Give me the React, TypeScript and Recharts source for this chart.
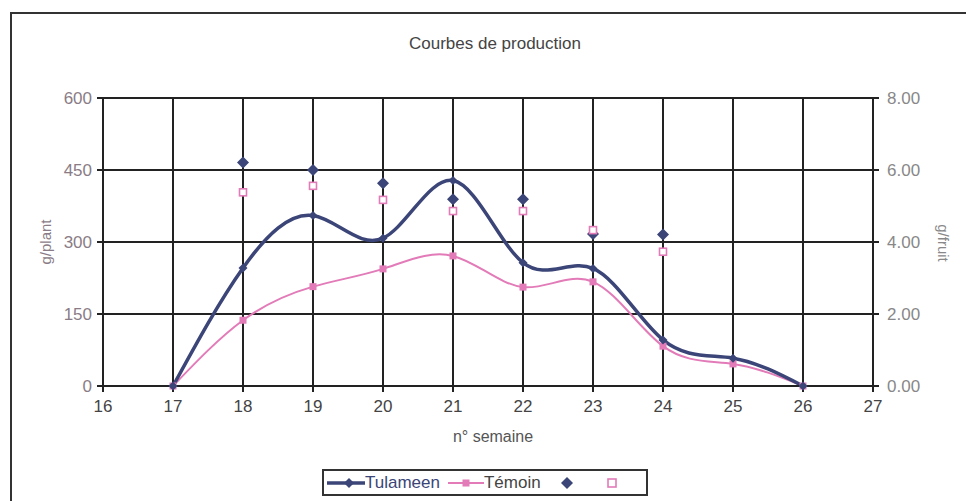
import React from "react"
import {
  ComposedChart,
  Line,
  Scatter,
  XAxis,
  YAxis,
  CartesianGrid,
} from "recharts"

// n° semaine
const weeks = [17, 18, 19, 20, 21, 22, 23, 24, 25, 26]
// g/plant
const tulameen = [0, 246, 355, 308, 428, 257, 245, 96, 58, 0]
const temoin = [0, 137, 207, 244, 271, 206, 217, 83, 46, 0]

// g/fruit (axe de droite)
const fruitWeeks = [18, 19, 20, 21, 22, 23, 24]
const tulameenFruit = [6.21, 6.0, 5.63, 5.19, 5.19, 4.22, 4.21]
const temoinFruit = [5.38, 5.56, 5.17, 4.86, 4.86, 4.33, 3.73]

const xTicks = [16, 17, 18, 19, 20, 21, 22, 23, 24, 25, 26, 27]
const leftTicks = [0, 150, 300, 450, 600]
const rightTicks = [0, 2, 4, 6, 8]

const NAVY = "#3b4577"
const PINK = "#e27bb8"
const GRID = "#222"
const FONT = "'Liberation Sans', Arial, sans-serif"

const lineData = weeks.map((w, i) => ({ week: w, tul: tulameen[i], tem: temoin[i] }))
const diamondData = fruitWeeks.map((w, i) => ({ week: w, fruit: tulameenFruit[i] }))
const squareData = fruitWeeks.map((w, i) => ({ week: w, fruit: temoinFruit[i] }))

const diamond = (cx: number, cy: number, r: number) =>
  `M${cx},${cy - r}L${cx + r},${cy}L${cx},${cy + r}L${cx - r},${cy}Z`

function LineDiamond(props: any) {
  const { cx, cy, index } = props
  if (cx == null || cy == null) return <g key={`ld-${index}`} />
  return <path key={`ld-${index}`} d={diamond(cx, cy, 4.5)} fill={NAVY} />
}

function LineSquare(props: any) {
  const { cx, cy, index } = props
  if (cx == null || cy == null) return <g key={`ls-${index}`} />
  return <rect key={`ls-${index}`} x={cx - 3.5} y={cy - 3.5} width={7} height={7} fill={PINK} />
}

function BigDiamond(props: any) {
  const { cx, cy } = props
  return <path d={diamond(cx, cy, 6)} fill={NAVY} />
}

function OpenSquare(props: any) {
  const { cx, cy } = props
  return (
    <rect x={cx - 3.5} y={cy - 3.5} width={7} height={7} fill="#fff" stroke={PINK} strokeWidth={1.6} />
  )
}

export default function App() {
  return (
    <div
      style={{
        position: "absolute",
        left: 0,
        top: 0,
        width: 966,
        height: 501,
        background: "#fff",
        fontFamily: FONT,
        overflow: "hidden",
      }}
    >
      {/* cadre */}
      <div
        style={{
          position: "absolute",
          left: 10,
          top: 12,
          width: 980,
          height: 520,
          borderLeft: "2px solid #333",
          borderTop: "2px solid #333",
        }}
      />
      <div
        style={{
          position: "absolute",
          left: 0,
          width: 990,
          top: 34,
          textAlign: "center",
          fontSize: 17,
          color: "#444",
        }}
      >
        Courbes de production
      </div>
      <ComposedChart
        width={966}
        height={501}
        data={lineData}
        margin={{ top: 98, right: 33, bottom: 85, left: 43 }}
        style={{ position: "absolute", left: 0, top: 0 }}
      >
        <CartesianGrid yAxisId="left" stroke={GRID} strokeWidth={2} />
        <XAxis
          dataKey="week"
          type="number"
          domain={[16, 27]}
          ticks={xTicks}
          interval={0}
          height={30}
          stroke={GRID}
          strokeWidth={2}
          tickSize={6}
          tickMargin={8}
          tick={{ fill: "#444", fontSize: 17, fontFamily: FONT }}
        />
        <YAxis
          yAxisId="left"
          domain={[0, 600]}
          ticks={leftTicks}
          width={60}
          stroke={GRID}
          strokeWidth={2}
          tickSize={6}
          tickMargin={5}
          tick={{ fill: "#8a7c86", fontSize: 17, fontFamily: FONT }}
        />
        <YAxis
          yAxisId="right"
          orientation="right"
          domain={[0, 8]}
          ticks={rightTicks}
          width={60}
          stroke={GRID}
          strokeWidth={2}
          tickSize={6}
          tickMargin={8}
          tickFormatter={(v: number) => v.toFixed(2)}
          tick={{ fill: "#888", fontSize: 17, fontFamily: FONT }}
        />
        <Line
          yAxisId="left"
          dataKey="tem"
          type="natural"
          stroke={PINK}
          strokeWidth={2}
          dot={LineSquare}
          activeDot={false}
          isAnimationActive={false}
        />
        <Line
          yAxisId="left"
          dataKey="tul"
          type="natural"
          stroke={NAVY}
          strokeWidth={3.5}
          dot={LineDiamond}
          activeDot={false}
          isAnimationActive={false}
        />
        <Scatter
          yAxisId="right"
          data={diamondData}
          dataKey="fruit"
          shape={BigDiamond}
          isAnimationActive={false}
        />
        <Scatter
          yAxisId="right"
          data={squareData}
          dataKey="fruit"
          shape={OpenSquare}
          isAnimationActive={false}
        />
      </ComposedChart>
      <div
        style={{
          position: "absolute",
          left: 45,
          top: 242,
          transform: "translate(-50%, -50%) rotate(-90deg)",
          fontSize: 15,
          color: "#8a7c86",
          whiteSpace: "nowrap",
        }}
      >
        g/plant
      </div>
      <div
        style={{
          position: "absolute",
          left: 943,
          top: 243,
          transform: "translate(-50%, -50%) rotate(90deg)",
          fontSize: 15,
          color: "#888",
          whiteSpace: "nowrap",
        }}
      >
        g/fruit
      </div>
      <div
        style={{
          position: "absolute",
          left: 0,
          width: 986,
          top: 428,
          textAlign: "center",
          fontSize: 16,
          color: "#555",
        }}
      >
        n° semaine
      </div>
      {/* légende */}
      <div
        style={{
          position: "absolute",
          left: 322,
          top: 469,
          width: 326,
          height: 27,
          border: "2px solid #333",
          boxSizing: "border-box",
          display: "flex",
          alignItems: "center",
          fontSize: 17,
          whiteSpace: "nowrap",
        }}
      >
        <svg width={38} height={14} style={{ marginLeft: 3 }}>
          <line x1={0} y1={7} x2={38} y2={7} stroke={NAVY} strokeWidth={3.5} />
          <path d={diamond(22, 7, 5)} fill={NAVY} />
        </svg>
        <span style={{ color: NAVY }}>Tulameen</span>
        <svg width={36} height={14} style={{ marginLeft: 8 }}>
          <line x1={0} y1={7} x2={36} y2={7} stroke={PINK} strokeWidth={2} />
          <rect x={14.5} y={3.5} width={7} height={7} fill={PINK} />
        </svg>
        <span style={{ color: "#444" }}>Témoin</span>
        <svg width={14} height={14} style={{ marginLeft: 19 }}>
          <path d={diamond(7, 7, 6)} fill={NAVY} />
        </svg>
        <svg width={14} height={14} style={{ marginLeft: 31 }}>
          <rect x={3} y={3} width={8} height={8} fill="#fff" stroke={PINK} strokeWidth={1.6} />
        </svg>
      </div>
    </div>
  )
}
